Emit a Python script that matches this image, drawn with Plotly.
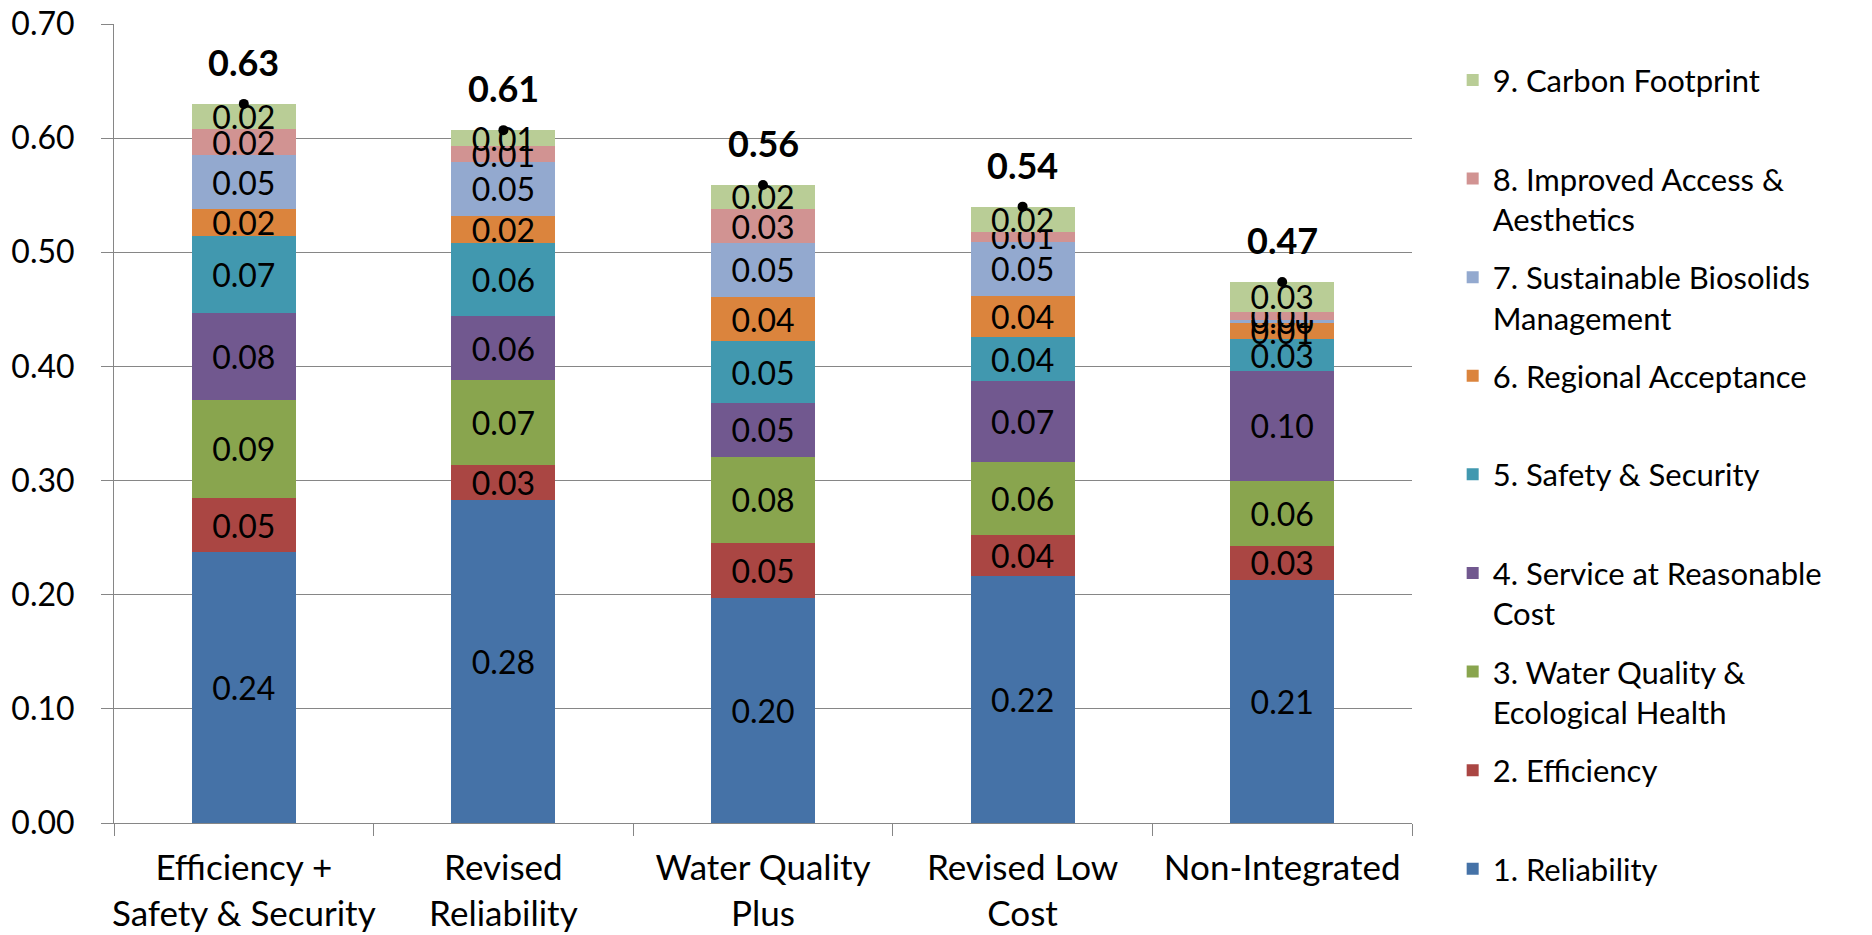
import plotly.graph_objects as go

# ---------------- data ----------------
categories = ["Efficiency +<br>Safety & Security", "Revised<br>Reliability",
              "Water Quality<br>Plus", "Revised Low<br>Cost", "Non-Integrated"]

series_names = [
    "1. Reliability",
    "2. Efficiency",
    "3. Water Quality &<br>Ecological Health",
    "4. Service at Reasonable<br>Cost",
    "5. Safety & Security",
    "6. Regional Acceptance",
    "7. Sustainable Biosolids<br>Management",
    "8. Improved Access &<br>Aesthetics",
    "9. Carbon Footprint",
]

reliability     = [0.237, 0.283, 0.197, 0.216, 0.213]
efficiency      = [0.048, 0.031, 0.048, 0.036, 0.030]
water_quality   = [0.086, 0.074, 0.076, 0.064, 0.057]
service_cost    = [0.076, 0.056, 0.047, 0.071, 0.096]
safety_security = [0.067, 0.064, 0.054, 0.039, 0.028]
regional        = [0.024, 0.024, 0.039, 0.036, 0.014]
biosolids       = [0.047, 0.047, 0.047, 0.047, 0.003]
access          = [0.023, 0.014, 0.030, 0.009, 0.007]
carbon          = [0.022, 0.014, 0.021, 0.022, 0.026]

y_ticks = [0.0, 0.1, 0.2, 0.3, 0.4, 0.5, 0.6, 0.7]

series_values = [reliability, efficiency, water_quality, service_cost, safety_security,
                 regional, biosolids, access, carbon]
colors = ["#4572A7", "#AA4643", "#89A54E", "#71588F", "#4198AF",
          "#DB843D", "#93A9CF", "#D19392", "#B9CD96"]

totals = [sum(vals) for vals in zip(*series_values)]

FONT = "Lato"

fig = go.Figure()
n = len(series_names)
for i, (name, vals, col) in enumerate(zip(series_names, series_values, colors)):
    # single-line entries get an empty second line so every legend slot is equal
    legend_name = name if ("<br>" in name or i == 0) else name + "<br> "
    fig.add_trace(go.Bar(
        x=categories, y=vals, name=legend_name,
        marker=dict(color=col, line=dict(width=0)),
        texttemplate="%{y:.2f}", textposition="inside",
        insidetextanchor="middle", constraintext="none",
        textfont=dict(family=FONT, size=32, color="black"),
        legendgroup="g%d" % i, legendrank=100 + (n - i), hoverinfo="y",
    ))

fig.add_trace(go.Scatter(
    x=categories, y=totals, mode="markers",
    marker=dict(color="black", size=10),
    showlegend=False, hoverinfo="y",
))

for c, t in zip(categories, totals):
    fig.add_annotation(x=c, y=t, xref="x", yref="y", text="<b>%.2f</b>" % t,
                       showarrow=False, yanchor="middle", yshift=42,
                       font=dict(family=FONT, size=36, color="black"))

fig.update_layout(
    width=1872, height=935,
    margin=dict(l=114, r=460, t=24, b=112, autoexpand=False),
    barmode="stack", bargap=0.6,
    plot_bgcolor="white", paper_bgcolor="white",
    font=dict(family=FONT, size=32, color="black"),
    legend=dict(
        xref="container", yref="container",
        x=0.776, y=0.943, xanchor="left", yanchor="top",
        traceorder="grouped", tracegroupgap=15, maxheight=920,
        valign="top", font=dict(family=FONT, size=31, color="black"),
        bgcolor="rgba(0,0,0,0)",
    ),
    xaxis=dict(
        showline=True, linecolor="#868686", linewidth=1,
        ticks="outside", tickson="boundaries", ticklen=12, tickcolor="#868686",
        tickfont=dict(family=FONT, size=35, color="black"),
        tickangle=0, automargin=False, ticklabelstandoff=14,
        showgrid=False,
    ),
    yaxis=dict(
        range=[0, 0.7], tickvals=y_ticks, tickformat=".2f",
        showline=True, linecolor="#868686", linewidth=1,
        ticks="outside", ticklen=12, tickcolor="#868686",
        showgrid=True, gridcolor="#868686", gridwidth=1,
        zeroline=False, automargin=False,
        ticklabelstandoff=20,
        tickfont=dict(family=FONT, size=32, color="black"),
    ),
)

fig.write_html("out.html", config={"displayModeBar": False},
               post_script="document.body.style.margin='0';")
